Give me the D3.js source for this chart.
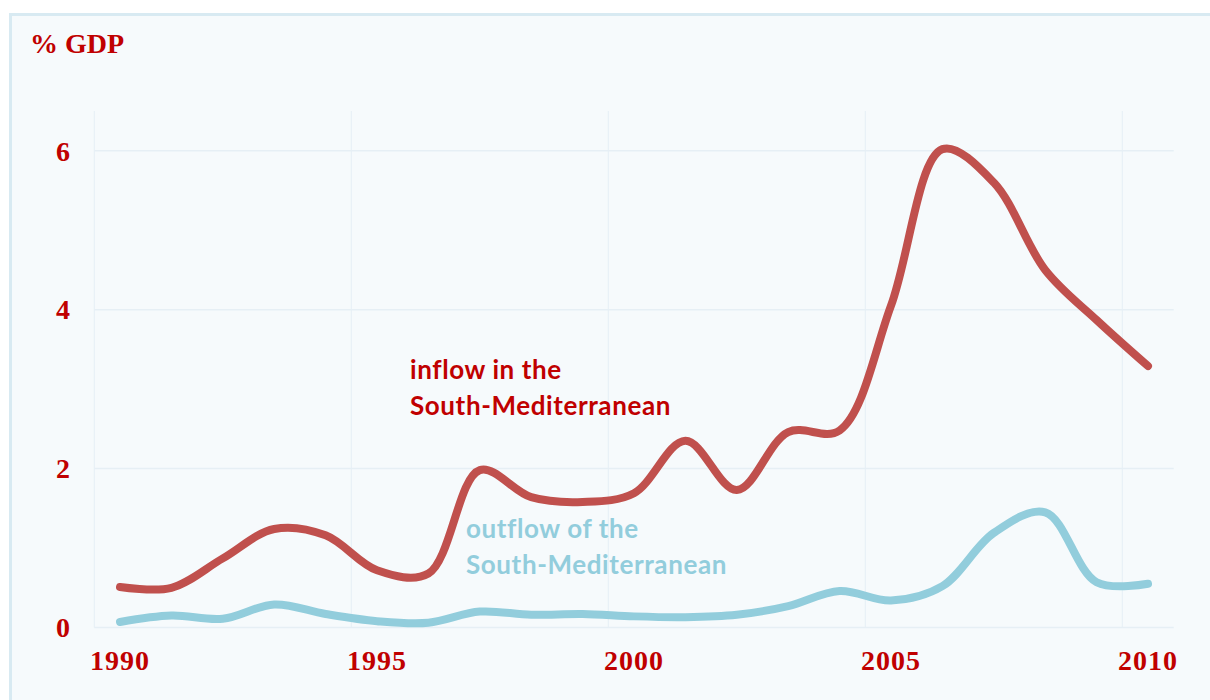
<!doctype html>
<html>
<head>
    <meta charset="UTF-8">
    <title>FDI South-Mediterranean</title>
    <script src="https://d3js.org/d3.v7.min.js"></script>
    <style>
        body { margin: 0; background: #fff; }
    </style>
</head>
<body>
<script>
    // data, % of GDP
    var years = [1990, 1991, 1992, 1993, 1994, 1995, 1996, 1997, 1998, 1999, 2000,
                 2001, 2002, 2003, 2004, 2005, 2006, 2007, 2008, 2009, 2010];
    var inflow = [0.51, 0.5, 0.87, 1.24, 1.16, 0.72, 0.68, 1.98, 1.64, 1.58, 1.69,
                  2.35, 1.73, 2.46, 2.48, 4.05, 6.02, 5.6, 4.5, 3.87, 3.29];
    var outflow = [0.07, 0.15, 0.11, 0.29, 0.17, 0.08, 0.06, 0.2, 0.16, 0.17, 0.14,
                   0.13, 0.16, 0.27, 0.46, 0.34, 0.52, 1.19, 1.45, 0.57, 0.55];
    var yTicks = [0, 2, 4, 6];
    var xTicks = [1990, 1995, 2000, 2005, 2010];
    var gridYears = [1989.5, 1994.5, 1999.5, 2004.5, 2009.5];

    var w = 1210, h = 700;
    var svg = d3.select("body").append("svg")
        .attr("width", w)
        .attr("height", h);

    // panel
    svg.append("rect")
        .attr("x", 10.5).attr("y", 14.5)
        .attr("width", w + 20).attr("height", h + 20)
        .attr("fill", "#f6fafc")
        .attr("stroke", "#d8eaf2")
        .attr("stroke-width", 3);

    var x = d3.scaleLinear().domain([1989.5, 2010.5]).range([94.3, 1173.7]);
    var y = d3.scaleLinear().domain([0, 6.5]).range([627.5, 111]);

    // grid
    svg.selectAll("line.vgrid").data(gridYears).enter().append("line")
        .attr("class", "vgrid")
        .attr("x1", function(d){ return x(d); })
        .attr("x2", function(d){ return x(d); })
        .attr("y1", y(6.5)).attr("y2", y(0))
        .attr("stroke", "#e6eff5").attr("stroke-width", 1);

    svg.selectAll("line.hgrid").data(yTicks).enter().append("line")
        .attr("class", "hgrid")
        .attr("x1", x(1989.5)).attr("x2", x(2010.5))
        .attr("y1", function(d){ return y(d); })
        .attr("y2", function(d){ return y(d); })
        .attr("stroke", "#e6eff5").attr("stroke-width", 1.5);

    // tick labels
    var serif = "'Liberation Serif', 'DejaVu Serif', serif";
    svg.selectAll("text.ytick").data(yTicks).enter().append("text")
        .attr("class", "ytick")
        .attr("x", 70)
        .attr("y", function(d){ return y(d); })
        .attr("dy", "0.35em")
        .attr("text-anchor", "end")
        .attr("font-family", serif)
        .attr("font-weight", "bold")
        .attr("font-size", 28)
        .attr("fill", "#c00000")
        .text(function(d){ return d; });

    svg.selectAll("text.xtick").data(xTicks).enter().append("text")
        .attr("class", "xtick")
        .attr("x", function(d){ return x(d); })
        .attr("y", 670)
        .attr("text-anchor", "middle")
        .attr("font-family", serif)
        .attr("font-weight", "bold")
        .attr("font-size", 28)
        .attr("letter-spacing", 1)
        .attr("fill", "#c00000")
        .text(function(d){ return d; });

    svg.append("text")
        .attr("x", 30).attr("y", 53)
        .attr("font-family", serif)
        .attr("font-weight", "bold")
        .attr("font-size", 28)
        .attr("fill", "#c00000")
        .text("% GDP");

    // lines
    var line = d3.line()
        .x(function(d, i){ return x(years[i]); })
        .y(function(d){ return y(d); })
        .curve(d3.curveCatmullRom);

    svg.append("path").datum(outflow)
        .attr("d", line)
        .attr("fill", "none")
        .attr("stroke", "#92cddc")
        .attr("stroke-width", 8)
        .attr("stroke-linecap", "round")
        .attr("stroke-linejoin", "round");

    svg.append("path").datum(inflow)
        .attr("d", line)
        .attr("fill", "none")
        .attr("stroke", "#c0504d")
        .attr("stroke-width", 8)
        .attr("stroke-linecap", "round")
        .attr("stroke-linejoin", "round");

    // series labels
    var sans = "Lato, 'Open Sans', sans-serif";
    function label(lines, x0, y0, color){
        var t = svg.append("text")
            .attr("font-family", sans)
            .attr("font-weight", "bold")
            .attr("font-size", 26)
            .attr("letter-spacing", 0.6)
            .attr("fill", color);
        lines.forEach(function(s, i){
            t.append("tspan").attr("x", x0).attr("y", y0 + i * 35.5).text(s);
        });
    }
    label(["inflow in the", "South-Mediterranean"], 410, 379, "#c00000");
    label(["outflow of the", "South-Mediterranean"], 466, 538, "#92cddc");
</script>
</body>
</html>
